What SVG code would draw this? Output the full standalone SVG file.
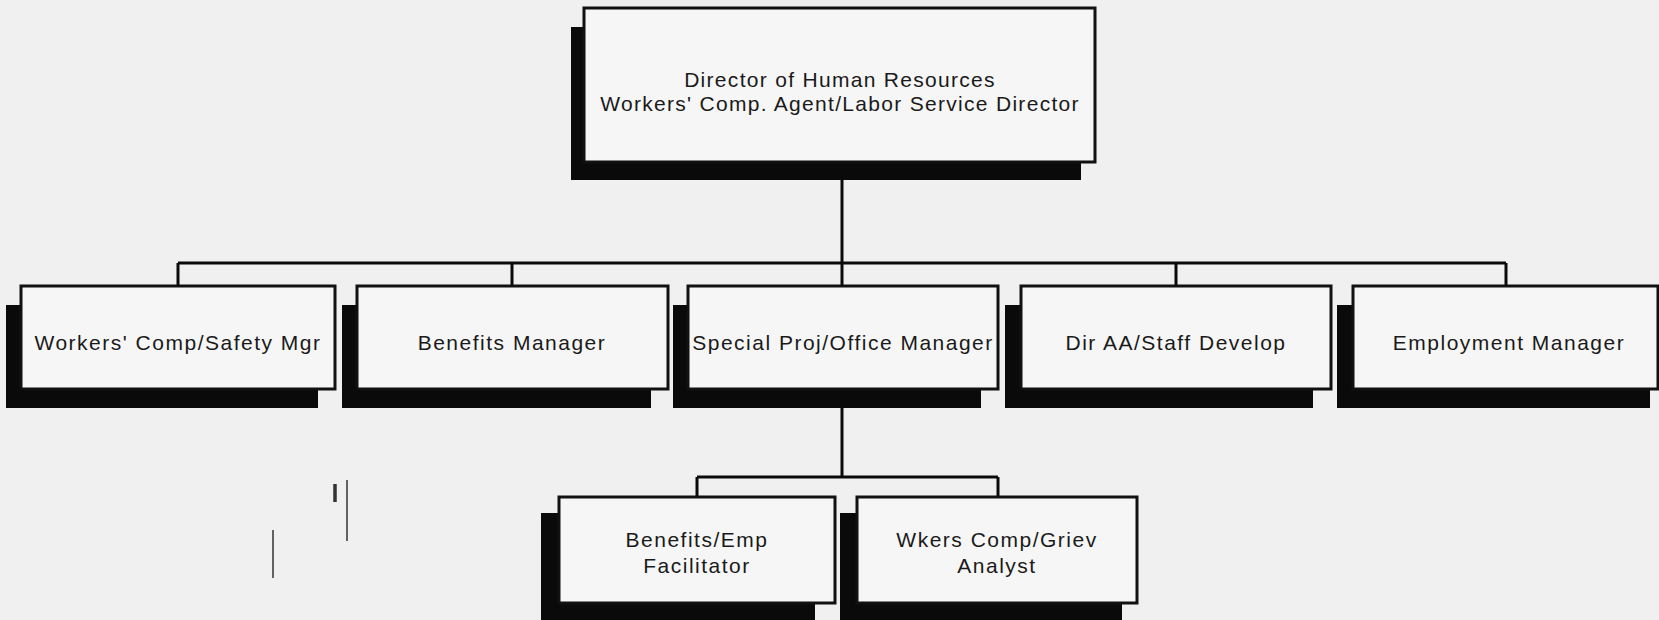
<svg xmlns="http://www.w3.org/2000/svg" width="1659" height="620" viewBox="0 0 1659 620">
<style>
.bg{fill:#f0f0f0}
.box{fill:#f6f6f6;stroke:#111;stroke-width:3}
.sh{fill:#0a0a0a}
.lbl{font-family:"Liberation Sans",Arial,sans-serif;font-size:21px;fill:#1a1a1a;text-anchor:middle;letter-spacing:1.5px}
.top{letter-spacing:1.3px}
.con{fill:none;stroke:#0a0a0a;stroke-width:3}
.mark{stroke:#333;fill:none}
</style>
<rect class="bg" x="0" y="0" width="1659" height="620"/>
<g id="connectors">
<path class="con" d="M842 180 V263 M178 263 H1506 M178 263 V286 M512 263 V286 M842 263 V286 M1176 263 V286 M1506 263 V286"/>
<path class="con" d="M842 407 V477 M697 477 H998 M697 477 V497 M998 477 V497"/>
</g>
<g id="director">
<rect class="sh" x="571" y="27" width="510" height="153"/>
<rect class="box" x="584" y="8" width="511" height="154"/>
<text class="lbl top" x="840" y="87">Director of Human Resources</text>
<text class="lbl top" x="840" y="111">Workers' Comp. Agent/Labor Service Director</text>
</g>
<g id="workers-comp-safety">
<rect class="sh" x="6" y="305" width="312" height="103"/>
<rect class="box" x="21" y="286" width="314" height="103"/>
<text class="lbl" x="178" y="350">Workers' Comp/Safety Mgr</text>
</g>
<g id="benefits-manager">
<rect class="sh" x="342" y="305" width="309" height="103"/>
<rect class="box" x="357" y="286" width="311" height="103"/>
<text class="lbl" x="512" y="350">Benefits Manager</text>
</g>
<g id="special-proj">
<rect class="sh" x="673" y="305" width="308" height="103"/>
<rect class="box" x="688" y="286" width="310" height="103"/>
<text class="lbl" x="843" y="350">Special Proj/Office Manager</text>
</g>
<g id="dir-aa">
<rect class="sh" x="1005" y="305" width="308" height="103"/>
<rect class="box" x="1021" y="286" width="310" height="103"/>
<text class="lbl" x="1176" y="350">Dir AA/Staff Develop</text>
</g>
<g id="employment-manager">
<rect class="sh" x="1337" y="305" width="313" height="103"/>
<rect class="box" x="1353" y="286" width="305" height="103"/>
<text class="lbl" x="1509" y="350">Employment Manager</text>
</g>
<g id="benefits-emp">
<rect class="sh" x="541" y="513" width="274" height="112"/>
<rect class="box" x="559" y="497" width="276" height="106"/>
<text class="lbl" x="697" y="547">Benefits/Emp</text>
<text class="lbl" x="697" y="573">Facilitator</text>
</g>
<g id="wkers-comp-griev">
<rect class="sh" x="840" y="513" width="282" height="112"/>
<rect class="box" x="857" y="497" width="280" height="106"/>
<text class="lbl" x="997" y="547">Wkers Comp/Griev</text>
<text class="lbl" x="997" y="573">Analyst</text>
</g>
<path class="mark" stroke-width="3.5" d="M335 484 V502"/>
<path class="mark" stroke-width="1.5" d="M347 480 V541"/>
<path class="mark" stroke-width="1.5" stroke="#666" d="M273 530 V578"/>
</svg>
